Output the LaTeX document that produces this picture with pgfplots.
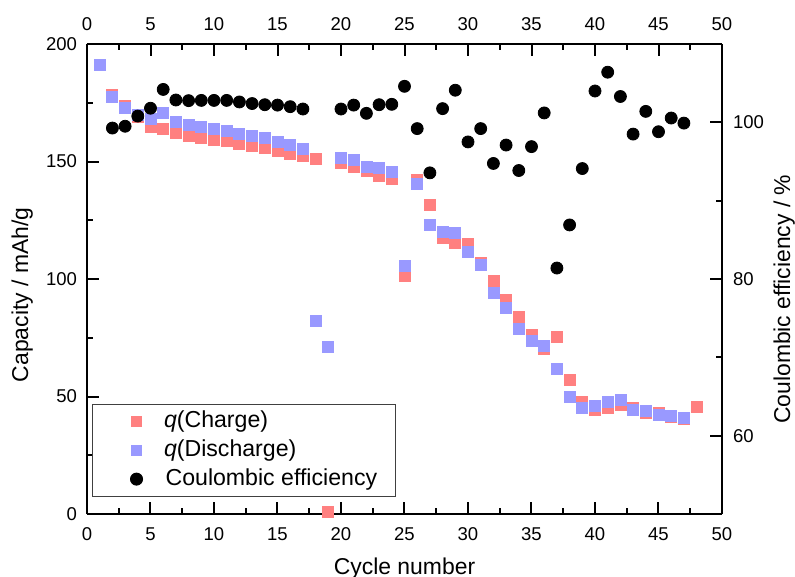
\documentclass[border=0pt]{standalone}
\usepackage{fontspec}
\setmainfont{Liberation Sans}
\usepackage{pgfplots}
\pgfplotsset{compat=1.18}
\definecolor{qred}{RGB}{255,128,128}
\definecolor{qblue}{RGB}{153,153,255}
\begin{document}
\begin{tikzpicture}
\pgfplotsset{
  common/.style={
    scale only axis, width=317.5bp, height=235bp,
    at={(0,0)}, anchor=south west,
    xmin=0, xmax=50,
    xtick={0,5,...,50}, minor xtick={2.5,7.5,...,47.5},
    axis line style={line width=1.4bp},
    every tick/.style={line width=1bp, black},
    major tick length=6bp, minor tick length=3bp,
    ticklabel style={font=\fontsize{9.3}{11}\selectfont},
    /pgf/number format/assume math mode=true,
    clip=false,
  },
  limg/.style={legend image code/.code={\path[draw=none,fill=none] (-13bp,-1bp) rectangle (0bp,1bp); \draw[##1] plot coordinates {(0bp,0bp)};}},
}
\begin{axis}[common,
  axis x line*=bottom, axis y line*=left, tick align=inside,
  ymin=0, ymax=200, ytick={0,50,...,200}, minor ytick={25,75,...,175},
  xticklabel style={yshift=-3.5bp},
  yticklabel style={xshift=-1.5bp},
  xlabel={Cycle number},
  xlabel style={at={(axis description cs:0.5,0)}, anchor=base, yshift=-30bp, font=\fontsize{11.5}{13}\selectfont},
  ylabel={Capacity / mAh/g},
  ylabel style={at={(axis description cs:-0.0929,0.466)}, anchor=base, font=\fontsize{11.5}{13}\selectfont},
]
\addplot[only marks, mark=square*, mark size=2.75bp, color=qred, mark options={draw=qred, fill=qred}] coordinates {
(2,178.5)(3,173.5)(4,168.8)(5,164.8)(6,163.7)(7,162.3)(8,161)(9,160.1)(10,159.3)
(11,158.6)(12,157.6)(13,156.7)(14,155.7)(15,154.6)(16,153.1)(17,152.2)(18,151.1)(19,1)
(20,149.2)(21,147.5)(22,146.1)(23,143.8)(24,142.4)(25,101.3)(26,142.1)(27,131.5)(28,117.7)
(29,115.2)(30,114.8)(31,106.9)(32,99.3)(33,91.1)(34,84)(35,76.2)(36,70.1)(37,75.4)
(38,57)(39,47.8)(40,44.3)(41,45)(42,46.4)(43,45)(44,43.1)(45,43.1)(46,41.3)(47,40.4)(48,45.4)
};
\addplot[only marks, mark=square*, mark size=2.75bp, color=qblue, mark options={draw=qblue, fill=qblue}] coordinates {
(1,191)(2,177.3)(3,172.6)(4,169.7)(5,168.2)(6,170.5)(7,166.9)(8,165.4)(9,164.6)(10,163.7)
(11,163)(12,161.8)(13,160.9)(14,159.9)(15,158.3)(16,156.9)(17,155.3)(18,82)(19,71)
(20,151.4)(21,150.6)(22,147.8)(23,147.1)(24,145.7)(25,105.7)(26,140.4)(27,123.1)(28,119.9)
(29,119.7)(30,111.6)(31,105.8)(32,94.2)(33,87.5)(34,78.7)(35,73.5)(36,71.5)(37,61.6)
(38,49.7)(39,45)(40,46)(41,47.8)(42,48.5)(43,44.3)(44,44)(45,42.3)(46,41.7)(47,40.7)
};
\end{axis}
\begin{axis}[common,
  axis x line*=top, axis y line*=right, tick align=inside,
  xticklabel pos=right,
  ymin=50, ymax=110, ytick={60,80,100}, minor ytick={50,70,90,110},
  xticklabel style={yshift=3.3bp},
  yticklabel style={xshift=2bp},
  ylabel={Coulombic efficiency / \%},
  ylabel style={at={(axis description cs:1.1071,0.457)}, anchor=base, font=\fontsize{11.5}{13}\selectfont},
  legend style={at={(axis description cs:0.0079,0.234)}, anchor=north west,
    draw=black!75, line width=0.5bp, fill=white,
    font=\fontsize{11.6}{13}\selectfont,
    inner xsep=9bp, inner ysep=3bp, row sep=3.4bp, column sep=10.75bp,
    nodes={inner sep=0pt, text height=8.5bp, text depth=2.5bp}},
  legend cell align=left,
]
\addlegendimage{only marks, mark=square*, mark size=2.6bp, color=qred, mark options={draw=qred, fill=qred}, limg}
\addlegendentry{\textit{q}(Charge)}
\addlegendimage{only marks, mark=square*, mark size=2.6bp, color=qblue, mark options={draw=qblue, fill=qblue}, limg}
\addlegendentry{\textit{q}(Discharge)}
\addplot[only marks, mark=*, mark size=3bp, color=black, limg] coordinates {
(2,99.27)(3,99.5)(4,100.8)(5,101.8)(6,104.2)(7,102.85)(8,102.77)(9,102.8)(10,102.8)
(11,102.8)(12,102.6)(13,102.4)(14,102.25)(15,102.2)(16,102.0)(17,101.7)
(20,101.7)(21,102.2)(22,101.15)(23,102.25)(24,102.3)(25,104.6)(26,99.2)(27,93.55)
(28,101.75)(29,104.1)(30,97.5)(31,99.2)(32,94.75)(33,97.1)(34,93.85)(35,96.9)
(36,101.2)(37,81.4)(38,86.9)(39,94.1)(40,104.0)(41,106.4)(42,103.3)(43,98.5)
(44,101.4)(45,98.8)(46,100.55)(47,99.9)
};
\addlegendentry{\hspace{0.8bp}Coulombic efficiency}
\end{axis}
\pgfresetboundingbox
\useasboundingbox (-43.5bp,-31.5bp) rectangle (354bp,257bp);
\end{tikzpicture}
\end{document}
